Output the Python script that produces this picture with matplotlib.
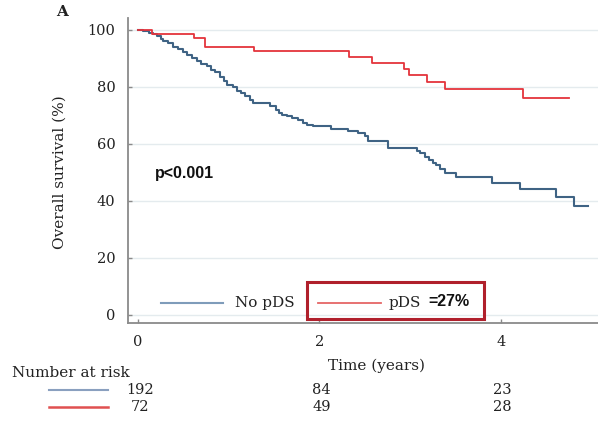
import matplotlib
matplotlib.use("Agg")
import matplotlib.pyplot as plt
from matplotlib.transforms import blended_transform_factory
from matplotlib.patches import Rectangle
from matplotlib.lines import Line2D

# ---- data ----
no_pds_time = [0.00, 0.05, 0.12, 0.17, 0.21, 0.25, 0.28, 0.33, 0.39, 0.44, 0.50,
               0.54, 0.60, 0.65, 0.70, 0.76, 0.80, 0.85, 0.90, 0.95, 0.98, 1.05,
               1.09, 1.13, 1.18, 1.23, 1.27, 1.45, 1.52, 1.55, 1.59, 1.64, 1.70,
               1.76, 1.82, 1.86, 1.93, 2.13, 2.32, 2.43, 2.50, 2.54, 2.76, 3.07,
               3.11, 3.16, 3.21, 3.25, 3.29, 3.33, 3.38, 3.51, 3.90, 4.21, 4.61,
               4.80, 4.96]
no_pds_surv = [100.0, 99.5, 99.0, 98.4, 97.7, 96.9, 95.9, 95.3, 94.1, 93.2, 92.1,
               91.2, 90.0, 89.0, 88.0, 87.1, 86.0, 85.0, 83.4, 82.0, 80.7, 79.9,
               78.4, 77.8, 76.6, 75.3, 74.3, 73.1, 72.0, 70.8, 70.2, 69.6, 68.9,
               68.2, 67.4, 66.7, 66.1, 65.2, 64.3, 63.7, 62.6, 61.1, 58.5, 57.6,
               56.7, 55.5, 54.4, 53.2, 52.4, 51.1, 49.7, 48.3, 46.2, 44.1, 41.2,
               38.0, 38.0]

pds_time = [0.00, 0.15, 0.62, 0.74, 1.28, 2.33, 2.58, 2.93, 2.99, 3.19, 3.38, 4.24, 4.75]
pds_surv = [100.0, 98.5, 97.0, 93.8, 92.4, 90.3, 88.3, 86.2, 84.0, 81.8, 79.2, 76.0, 76.0]

risk_times = [0, 2, 4]
risk_no_pds = [192, 84, 23]
risk_pds = [72, 49, 28]

x_ticks = [0, 2, 4]
y_ticks = [0, 20, 40, 60, 80, 100]

BLUE = "#3f6384"
RED = "#e4343c"
LEG_BLUE = "#7f9cba"
LEG_RED = "#e56666"
SERIF = "DejaVu Serif"

W, H = 598, 422
fig = plt.figure(figsize=(W / 100, H / 100), dpi=100)
fig.patch.set_facecolor("white")

ax = fig.add_axes([128 / W, 1 - 323 / H, 1 - 128 / W, (323 - 18.3) / H])
ax.set_xlim(-0.11, 5.07)
ax.set_ylim(-2.9, 104)

ax.step(no_pds_time, no_pds_surv, where="post", color=BLUE, lw=1.5, zorder=3)
ax.step(pds_time, pds_surv, where="post", color=RED, lw=1.3, zorder=3)

for s in ["top", "right"]:
    ax.spines[s].set_visible(False)
for s in ["left", "bottom"]:
    ax.spines[s].set_color("#8a8a8a")
    ax.spines[s].set_linewidth(1.3)

ax.set_xticks(x_ticks)
ax.set_yticks(y_ticks)
ax.tick_params(direction="in", length=3, width=1, color="#8a8a8a",
               labelsize=10.5, pad=9)
for lab in ax.get_xticklabels() + ax.get_yticklabels():
    lab.set_family(SERIF)
    lab.set_color("#222222")
ax.yaxis.grid(True, color="#e4ebee", lw=1)
ax.set_axisbelow(True)

ax.set_ylabel("Overall survival (%)", family=SERIF, fontsize=11, color="#222222",
              labelpad=14)
ax.yaxis.set_label_coords(-(128 - 67) / (W - 128), (323 - 172) / (323 - 18.3))

# Panel letter
fig.text(62 / W, 1 - 12 / H, "A", family=SERIF, fontweight="bold", fontsize=11,
         ha="center", va="center", color="#222222")

# p-value
fig.text(184 / W, 1 - 174 / H, "p<0.001", family="Liberation Sans", fontweight="bold",
         fontsize=11.5, ha="center", va="center", color="#111111")

# Legend (manual, in figure pixel coords)
def fx(px):
    return px / W

def fy(py):
    return 1 - py / H

fig.add_artist(Line2D([fx(161), fx(223)], [fy(303), fy(303)], color=LEG_BLUE, lw=1.5))
fig.text(fx(235), fy(303), "No pDS", family=SERIF, fontsize=11, ha="left", va="center",
         color="#222222")
fig.add_artist(Rectangle((fx(307), fy(319)), fx(484) - fx(307), fy(282) - fy(319),
                         fill=False, edgecolor="#b0202c", lw=2.2, transform=fig.transFigure))
fig.add_artist(Line2D([fx(318), fx(381)], [fy(303), fy(303)], color=LEG_RED, lw=1.3))
fig.text(fx(389), fy(303), "pDS", family=SERIF, fontsize=11, ha="left", va="center",
         color="#222222")
fig.text(fx(428), fy(302), "=27%", family="Liberation Sans", fontweight="bold",
         fontsize=11.5, ha="left", va="center", color="#111111")

# X label
fig.text(fx(377), fy(366), "Time (years)", family=SERIF, fontsize=11, ha="center",
         va="center", color="#222222")

# Number at risk table
fig.text(fx(12), fy(373), "Number at risk", family=SERIF, fontsize=11, ha="left",
         va="center", color="#222222")
fig.add_artist(Line2D([fx(49), fx(108)], [fy(390), fy(390)], color="#8aa0bf", lw=1.5))
fig.add_artist(Line2D([fx(49), fx(108)], [fy(407), fy(407)], color="#e05050", lw=1.8))
trans = blended_transform_factory(ax.transData, fig.transFigure)
for t, n1, n2 in zip(risk_times, risk_no_pds, risk_pds):
    ax.text(t + 0.02, fy(390), str(n1), transform=trans, family=SERIF, fontsize=10.5,
            ha="center", va="center", color="#222222", clip_on=False)
    ax.text(t + 0.02, fy(407), str(n2), transform=trans, family=SERIF, fontsize=10.5,
            ha="center", va="center", color="#222222", clip_on=False)

fig.savefig("out.png", dpi=100, facecolor="white")
